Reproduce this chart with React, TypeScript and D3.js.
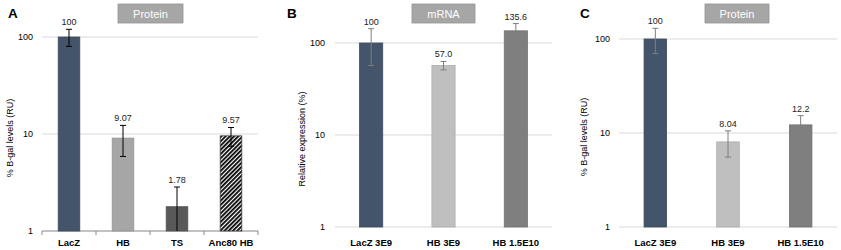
import React from "react";
import * as d3 from "d3";

// Panel A
const catsA = ["LacZ", "HB", "TS", "Anc80 HB"];
const valsA = [100, 9.07, 1.78, 9.57];
const errA = [20, 3.2, 1.06, 2.1];
const labelsA = ["100", "9.07", "1.78", "9.57"];
// Panel B
const catsB = ["LacZ 3E9", "HB 3E9", "HB 1.5E10"];
const valsB = [100, 57.0, 135.6];
const errB = [43, 6, 27];
const labelsB = ["100", "57.0", "135.6"];
// Panel C
const catsC = ["LacZ 3E9", "HB 3E9", "HB 1.5E10"];
const valsC = [100, 8.04, 12.2];
const errC = [30, 2.5, 3.1];
const labelsC = ["100", "8.04", "12.2"];

const yTicks = [1, 10, 100];

const FONT = "'Liberation Sans', Arial, sans-serif";

type PanelProps = {
  letter: string;
  letterX: number;
  title: string;
  boxX: number;
  boxW: number;
  cats: string[];
  vals: number[];
  errs: number[];
  labels: string[];
  fills: string[];
  hatched?: boolean[];
  x0: number;
  x1: number;
  yTop: number;
  yBot: number;
  tickRight: number;
  ylabel: string;
  ylabelX: number;
  barFrac: number;
  errColor: string;
  axisTicks: boolean;
  id: string;
};

function Panel(p: PanelProps) {
  const x = d3.scaleBand<string>().domain(p.cats).range([p.x0, p.x1]);
  const y = d3.scaleLog().domain([1, 100]).range([p.yBot, p.yTop]);
  const bw = x.bandwidth() * p.barFrac;
  const midY = (p.yTop + p.yBot) / 2 + 4;
  return (
    <g>
      <defs>
        <pattern id={"hatch" + p.id} width={3} height={3} patternUnits="userSpaceOnUse" patternTransform="rotate(45)">
          <rect width={3} height={3} fill="#fff" />
          <line x1={0.9} y1={0} x2={0.9} y2={3} stroke="#000" strokeWidth={1.8} />
        </pattern>
      </defs>
      <text x={p.letterX} y={18} fontFamily="Arial, sans-serif" fontWeight="bold" fontSize={13.5} fill="#000">
        {p.letter}
      </text>
      <rect x={p.boxX} y={4} width={p.boxW} height={19} fill="#a6a6a6" stroke="#959595" strokeWidth={0.8} />
      <text x={p.boxX + p.boxW / 2} y={18} textAnchor="middle" fontFamily={FONT} fontSize={11} fill="#fff">
        {p.title}
      </text>
      {yTicks.map((t) => (
        <g key={t}>
          {(t !== 1 || !p.axisTicks) && (
            <line x1={p.x0} x2={p.x1} y1={y(t)} y2={y(t)} stroke="#d9d9d9" strokeWidth={1} />
          )}
          <text x={p.tickRight} y={y(t) + 3} textAnchor="end" fontFamily={FONT} fontSize={9} fill="#000">
            {t}
          </text>
        </g>
      ))}
      {p.axisTicks && (
        <g>
          <line x1={p.x0} x2={p.x1} y1={p.yBot} y2={p.yBot} stroke="#868686" strokeWidth={1} />
          {[...p.cats.map((c) => x(c) as number), p.x1].map((xx, i) => (
            <line key={i} x1={xx} x2={xx} y1={p.yBot} y2={p.yBot + 4} stroke="#868686" strokeWidth={1} />
          ))}
        </g>
      )}
      <text
        transform={`translate(${p.ylabelX},${midY}) rotate(-90)`}
        textAnchor="middle"
        fontFamily={FONT}
        fontSize={9}
        fill="#000"
      >
        {p.ylabel}
      </text>
      {p.cats.map((c, i) => {
        const cx = (x(c) as number) + x.bandwidth() / 2;
        const v = p.vals[i];
        const top = y(v);
        const eHi = y(v + p.errs[i]);
        const eLo = y(Math.max(1, v - p.errs[i]));
        const hatch = p.hatched && p.hatched[i];
        return (
          <g key={c}>
            <rect
              x={cx - bw / 2}
              y={top}
              width={bw}
              height={p.yBot - top}
              fill={hatch ? `url(#hatch${p.id})` : p.fills[i]}
              stroke={hatch ? "#404040" : d3.color(p.fills[i])!.darker(0.3).toString()}
              strokeWidth={0.8}
            />
            <line x1={cx} x2={cx} y1={eHi} y2={eLo} stroke={p.errColor} strokeWidth={1} />
            <line x1={cx - 3} x2={cx + 3} y1={eHi} y2={eHi} stroke={p.errColor} strokeWidth={1} />
            {v - p.errs[i] > 1 && (
              <line x1={cx - 3} x2={cx + 3} y1={eLo} y2={eLo} stroke={p.errColor} strokeWidth={1} />
            )}
            <text x={cx} y={eHi - 4} textAnchor="middle" fontFamily={FONT} fontSize={9} fill="#222">
              {p.labels[i]}
            </text>
            <text x={cx} y={246} textAnchor="middle" fontFamily={FONT} fontWeight="bold" fontSize={9.5} fill="#000">
              {c}
            </text>
          </g>
        );
      })}
    </g>
  );
}

export default function App() {
  return (
    <svg width={841} height={250} style={{ position: "absolute", left: 0, top: 0, background: "#fff" }}>
      <rect width={841} height={250} fill="#fff" />
      <Panel
        id="A"
        letter="A"
        letterX={8}
        title="Protein"
        boxX={118}
        boxW={65}
        cats={catsA}
        vals={valsA}
        errs={errA}
        labels={labelsA}
        fills={["#44546a", "#a6a6a6", "#595959", "#ffffff"]}
        hatched={[false, false, false, true]}
        x0={42}
        x1={258}
        yTop={37}
        yBot={231}
        tickRight={33}
        ylabel="% B-gal levels (RU)"
        ylabelX={13}
        barFrac={0.4}
        errColor="#000"
        axisTicks={true}
      />
      <Panel
        id="B"
        letter="B"
        letterX={287}
        title="mRNA"
        boxX={412}
        boxW={63}
        cats={catsB}
        vals={valsB}
        errs={errB}
        labels={labelsB}
        fills={["#44546a", "#bfbfbf", "#7f7f7f"]}
        x0={335}
        x1={552}
        yTop={43}
        yBot={227}
        tickRight={325}
        ylabel="Relative expression (%)"
        ylabelX={305}
        barFrac={0.32}
        errColor="#7f7f7f"
        axisTicks={false}
      />
      <Panel
        id="C"
        letter="C"
        letterX={580}
        title="Protein"
        boxX={705}
        boxW={64}
        cats={catsC}
        vals={valsC}
        errs={errC}
        labels={labelsC}
        fills={["#44546a", "#bfbfbf", "#7f7f7f"]}
        x0={619}
        x1={837}
        yTop={39}
        yBot={227}
        tickRight={610}
        ylabel="% B-gal levels (RU)"
        ylabelX={587}
        barFrac={0.31}
        errColor="#7f7f7f"
        axisTicks={false}
      />
    </svg>
  );
}
